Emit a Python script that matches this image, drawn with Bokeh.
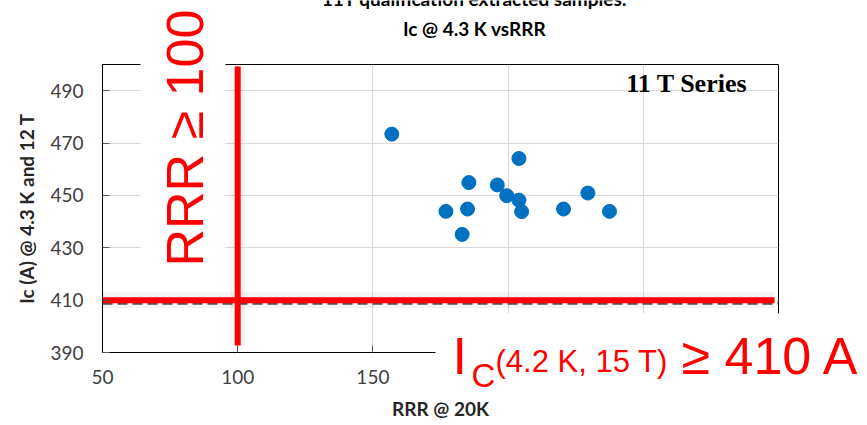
import math

from bokeh.plotting import figure
from bokeh.models import Range1d, FixedTicker, Label, BoxAnnotation, ColumnDataSource
from bokeh.embed import file_html
from bokeh.resources import INLINE

# 11 T qualification samples: RRR at 20 K and Ic at 4.3 K / 12 T
rrr = [157, 204, 185.5, 196, 199.5, 204, 177, 185, 205, 220.5, 229.5, 237.5, 183]
ic = [473.4, 464.1, 454.9, 454.0, 449.9, 448.2, 443.9, 444.8, 443.8, 444.8, 450.9, 443.9, 435.1]

x_ticks = [50, 100, 150, 200, 250, 300]
y_ticks = [390, 410, 430, 450, 470, 490]

# acceptance thresholds
rrr_min = 100
ic_min = 410

X0, X1 = 50, 300
Y0, Y1 = 390, 500

W, H = 867, 425
L, R, T, B = 102, 778, 64, 352   # frame edges on the canvas


def dx(px):
    return X0 + (px - L) / (R - L) * (X1 - X0)


def dy(py):
    return Y0 + (B - py) / (B - T) * (Y1 - Y0)


# ---- the chart itself -------------------------------------------------------
p = figure(width=W, height=H, x_range=Range1d(X0, X1), y_range=Range1d(Y0, Y1),
           output_backend="svg", toolbar_location=None,
           min_border_left=L, min_border_right=W - R,
           min_border_top=T, min_border_bottom=H - B)
p.background_fill_color = "white"
p.border_fill_color = "white"
p.outline_line_color = "black"
p.outline_line_width = 1

p.xaxis.ticker = FixedTicker(ticks=x_ticks)
p.yaxis.ticker = FixedTicker(ticks=y_ticks)
for ax in (p.xaxis[0], p.yaxis[0]):
    ax.axis_line_color = "black"
    ax.major_tick_in = 7
    ax.major_tick_out = 0
    ax.major_tick_line_color = "#595959"
    ax.minor_tick_line_color = None
    ax.major_label_text_font = "Lato"
    ax.major_label_text_font_size = "19px"
    ax.major_label_text_color = "#404040"
    ax.axis_label_text_font = "Lato"
    ax.axis_label_text_font_style = "bold"
    ax.axis_label_text_font_size = "19px"
    ax.axis_label_text_color = "#262626"

p.xaxis.axis_label = "RRR @ 20K"
p.yaxis.axis_label = "Ic (A) @ 4.3 K and 12 T"
p.xaxis.major_label_standoff = 17
p.yaxis.major_label_standoff = 19
p.xaxis.axis_label_standoff = 10
p.yaxis.axis_label_standoff = 9

p.xgrid.ticker = FixedTicker(ticks=x_ticks)
p.ygrid.ticker = FixedTicker(ticks=y_ticks)
p.grid.grid_line_color = "#d9d9d9"
p.grid.grid_line_width = 1

# original dashed Ic limit, peeking out below the red one
p.segment(x0=[X0], y0=[ic_min - 1.15], x1=[X1], y1=[ic_min - 1.15],
          line_color="#595959", line_width=3, line_dash="10 5")

# soft glow behind the red limit lines
p.segment(x0=[X0], y0=[ic_min], x1=[dx(774)], y1=[ic_min],
          line_color="black", line_alpha=0.05, line_width=16)
p.segment(x0=[rrr_min], y0=[dy(345)], x1=[rrr_min], y1=[dy(66)],
          line_color="black", line_alpha=0.04, line_width=14)

src = ColumnDataSource(dict(rrr=rrr, ic=ic))
p.scatter("rrr", "ic", source=src, size=14, fill_color="#0070C0",
          line_color="#0070C0", line_width=1)

# red limit lines
p.segment(x0=[X0], y0=[ic_min], x1=[dx(774)], y1=[ic_min],
          line_color="#ff0000", line_width=6, line_cap="butt")
p.segment(x0=[rrr_min], y0=[dy(345)], x1=[rrr_min], y1=[dy(66)],
          line_color="#ff0000", line_width=6, line_cap="butt")

p.add_layout(Label(x=dx(747), y=dy(83), text="11 T Series",
                   text_align="right", text_baseline="alphabetic",
                   text_font="Liberation Serif", text_font_style="bold",
                   text_font_size="26px", text_color="black"))

# ---- transparent overlay in canvas pixels for captions outside the frame ----
ov = figure(width=W, height=H, x_range=Range1d(0, W), y_range=Range1d(H, 0),
            output_backend="svg", toolbar_location=None,
            x_axis_type=None, y_axis_type=None,
            min_border=0, min_border_left=0, min_border_right=0,
            min_border_top=0, min_border_bottom=0,
            stylesheets=[":host { position: absolute !important; top: 0px !important; left: 0px !important; }"])
ov.background_fill_alpha = 0
ov.border_fill_alpha = 0
ov.outline_line_color = None

# title (first line runs off the top edge)
ov.add_layout(Label(x=474, y=-2, text="11T qualification extracted samples:",
                    text_align="center", text_baseline="alphabetic",
                    text_font="Lato", text_font_style="bold",
                    text_font_size="19px", text_color="black"))
ov.add_layout(Label(x=474, y=28, text="Ic @ 4.3 K vsRRR",
                    text_align="center", text_baseline="alphabetic",
                    text_font="Lato", text_font_style="bold",
                    text_font_size="19px", text_color="black"))

# white panels behind the threshold captions
ov.add_layout(BoxAnnotation(left=140, right=225, top=0, bottom=288,
                            fill_color="white", fill_alpha=1, line_alpha=0))
ov.add_layout(BoxAnnotation(left=435, right=W, top=313, bottom=396,
                            fill_color="white", fill_alpha=1, line_alpha=0))

red = "#ff0000"
ov.add_layout(Label(x=184, y=266, text="RRR \u2265 100", angle=math.pi / 2,
                    text_align="left", text_baseline="alphabetic",
                    text_font="Liberation Sans", text_font_size="52px",
                    text_color=red))

ov.add_layout(Label(x=452, y=355, text="I", text_align="left",
                    text_baseline="alphabetic", text_font="Liberation Sans",
                    text_font_size="52px", text_color=red))
ov.add_layout(Label(x=471, y=375, text="C", text_align="left",
                    text_baseline="alphabetic", text_font="Liberation Sans",
                    text_font_size="33px", text_color=red))
ov.add_layout(Label(x=495, y=361, text="(4.2 K, 15 T)", text_align="left",
                    text_baseline="alphabetic", text_font="Liberation Sans",
                    text_font_size="31px", text_color=red))
ov.add_layout(Label(x=681, y=355, text="\u2265 410 A", text_align="left",
                    text_baseline="alphabetic", text_font="Liberation Sans",
                    text_font_size="52px", text_color=red))

# two roots: the chart, then the overlay pinned on top of it
open("out.html", "w").write(file_html((p, ov), INLINE))
